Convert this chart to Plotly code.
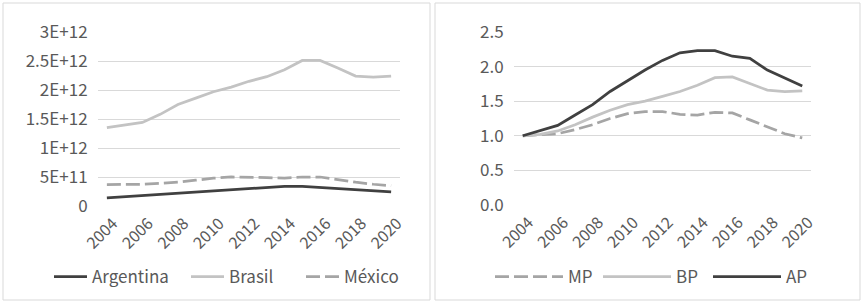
import plotly.graph_objects as go

years = list(range(2004, 2021))

# Left panel (USD)
argentina = [0.14e12, 0.16e12, 0.18e12, 0.205e12, 0.23e12, 0.25e12, 0.27e12, 0.29e12, 0.31e12, 0.33e12,
             0.34e12, 0.34e12, 0.32e12, 0.31e12, 0.28e12, 0.26e12, 0.245e12]
brasil = [1.35e12, 1.40e12, 1.44e12, 1.58e12, 1.75e12, 1.86e12, 1.97e12, 2.05e12, 2.15e12, 2.23e12,
          2.35e12, 2.51e12, 2.51e12, 2.38e12, 2.24e12, 2.22e12, 2.24e12]
mexico = [0.37e12, 0.37e12, 0.375e12, 0.39e12, 0.41e12, 0.445e12, 0.48e12, 0.50e12, 0.50e12, 0.49e12,
          0.48e12, 0.50e12, 0.50e12, 0.45e12, 0.41e12, 0.375e12, 0.35e12]

# Right panel (index, 2004 = 1)
mp = [1.0, 1.01, 1.03, 1.09, 1.16, 1.25, 1.32, 1.35, 1.35, 1.31, 1.30, 1.34, 1.33, 1.23, 1.13, 1.03, 0.97]
bp = [1.0, 1.02, 1.07, 1.16, 1.27, 1.37, 1.45, 1.50, 1.57, 1.64, 1.73, 1.84, 1.85, 1.75, 1.66, 1.64, 1.65]
ap = [1.0, 1.076, 1.15, 1.30, 1.45, 1.64, 1.80, 1.95, 2.09, 2.20, 2.23, 2.23, 2.15, 2.12, 1.95, 1.84, 1.72]

year_ticks = list(range(2004, 2021, 2))
left_tickvals = [0, 0.5e12, 1e12, 1.5e12, 2e12, 2.5e12, 3e12]
left_ticktext = ["0", "5E+11", "1E+12", "1.5E+12", "2E+12", "2.5E+12", "3E+12"]
right_tickvals = [0.0, 0.5, 1.0, 1.5, 2.0, 2.5]

DARK = "#404040"
LIGHT = "#c3c3c3"
MID = "#a5a5a5"
GRID = "#d9d9d9"
TXT = "#595959"
W, H = 864, 302
DASH = "14px,5px"

def px(x):
    return x / W

def py(y):
    return 1 - y / H

fig = go.Figure()

def add(x, y, name, color, dash, xa, ya, leg):
    fig.add_trace(go.Scatter(x=x, y=y, name=name, mode="lines",
                             line=dict(color=color, width=2.75, dash=dash),
                             xaxis=xa, yaxis=ya, legend=leg, showlegend=True))

add(years, argentina, "Argentina", DARK, "solid", "x", "y", "legend")
add(years, brasil, "Brasil", LIGHT, "solid", "x", "y", "legend2")
add(years, mexico, "México", MID, DASH, "x", "y", "legend3")
add(years, mp, "MP", MID, DASH, "x2", "y2", "legend4")
add(years, bp, "BP", LIGHT, "solid", "x2", "y2", "legend5")
add(years, ap, "AP", DARK, "solid", "x2", "y2", "legend6")

FAM = "Noto Sans CJK JP"
font = dict(family=FAM, size=17, color=TXT)
xfont = dict(family=FAM, size=16, color=TXT)

xcommon = dict(range=[2003.5, 2020.5], tickvals=year_ticks, tickangle=-45, showgrid=False,
               zeroline=False, showline=False, ticks="", tickfont=xfont, automargin=False,
               ticklabelstandoff=4, ticklabelshift=6)
ycommon = dict(showgrid=True, gridcolor=GRID, gridwidth=1, zeroline=False, showline=False,
               ticks="outside", ticklen=6, tickcolor="rgba(0,0,0,0)", tickfont=font,
               automargin=False)

def leg(x, y, iw):
    return dict(x=x, y=y, xanchor="left", yanchor="middle", orientation="h",
                font=font, bgcolor="rgba(0,0,0,0)", borderwidth=0, itemwidth=iw,
                tracegroupgap=0)

fig.update_layout(
    width=W, height=H, margin=dict(l=0, r=0, t=0, b=0),
    paper_bgcolor="white", plot_bgcolor="white", font=font,
    xaxis=dict(domain=[px(98), px(400)], anchor="y", **xcommon),
    yaxis=dict(domain=[py(206), py(32)], range=[0, 3e12], tickvals=left_tickvals,
               ticktext=left_ticktext, anchor="x", **ycommon),
    xaxis2=dict(domain=[px(514), px(811)], anchor="y2", **xcommon),
    yaxis2=dict(domain=[py(205), py(32)], range=[0, 2.5], tickvals=right_tickvals,
                tickformat=".1f", anchor="x2", **ycommon),
    legend=leg(px(49), py(277), 33),
    legend2=leg(px(186), py(277), 33),
    legend3=leg(px(301), py(277), 33),
    legend4=leg(px(490), py(277), 68),
    legend5=leg(px(598), py(277), 68),
    legend6=leg(px(708), py(277), 68),
    shapes=[
        dict(type="rect", xref="paper", yref="paper", x0=px(3), x1=px(430), y0=py(300), y1=py(3),
             line=dict(color=GRID, width=1), fillcolor="rgba(0,0,0,0)", layer="below"),
        dict(type="rect", xref="paper", yref="paper", x0=px(435), x1=px(860), y0=py(300), y1=py(3),
             line=dict(color=GRID, width=1), fillcolor="rgba(0,0,0,0)", layer="below"),
    ],
)

fig.write_html("out.html", config={"displayModeBar": False},
               post_script="document.body.style.margin='0px';document.body.style.padding='0px';")
